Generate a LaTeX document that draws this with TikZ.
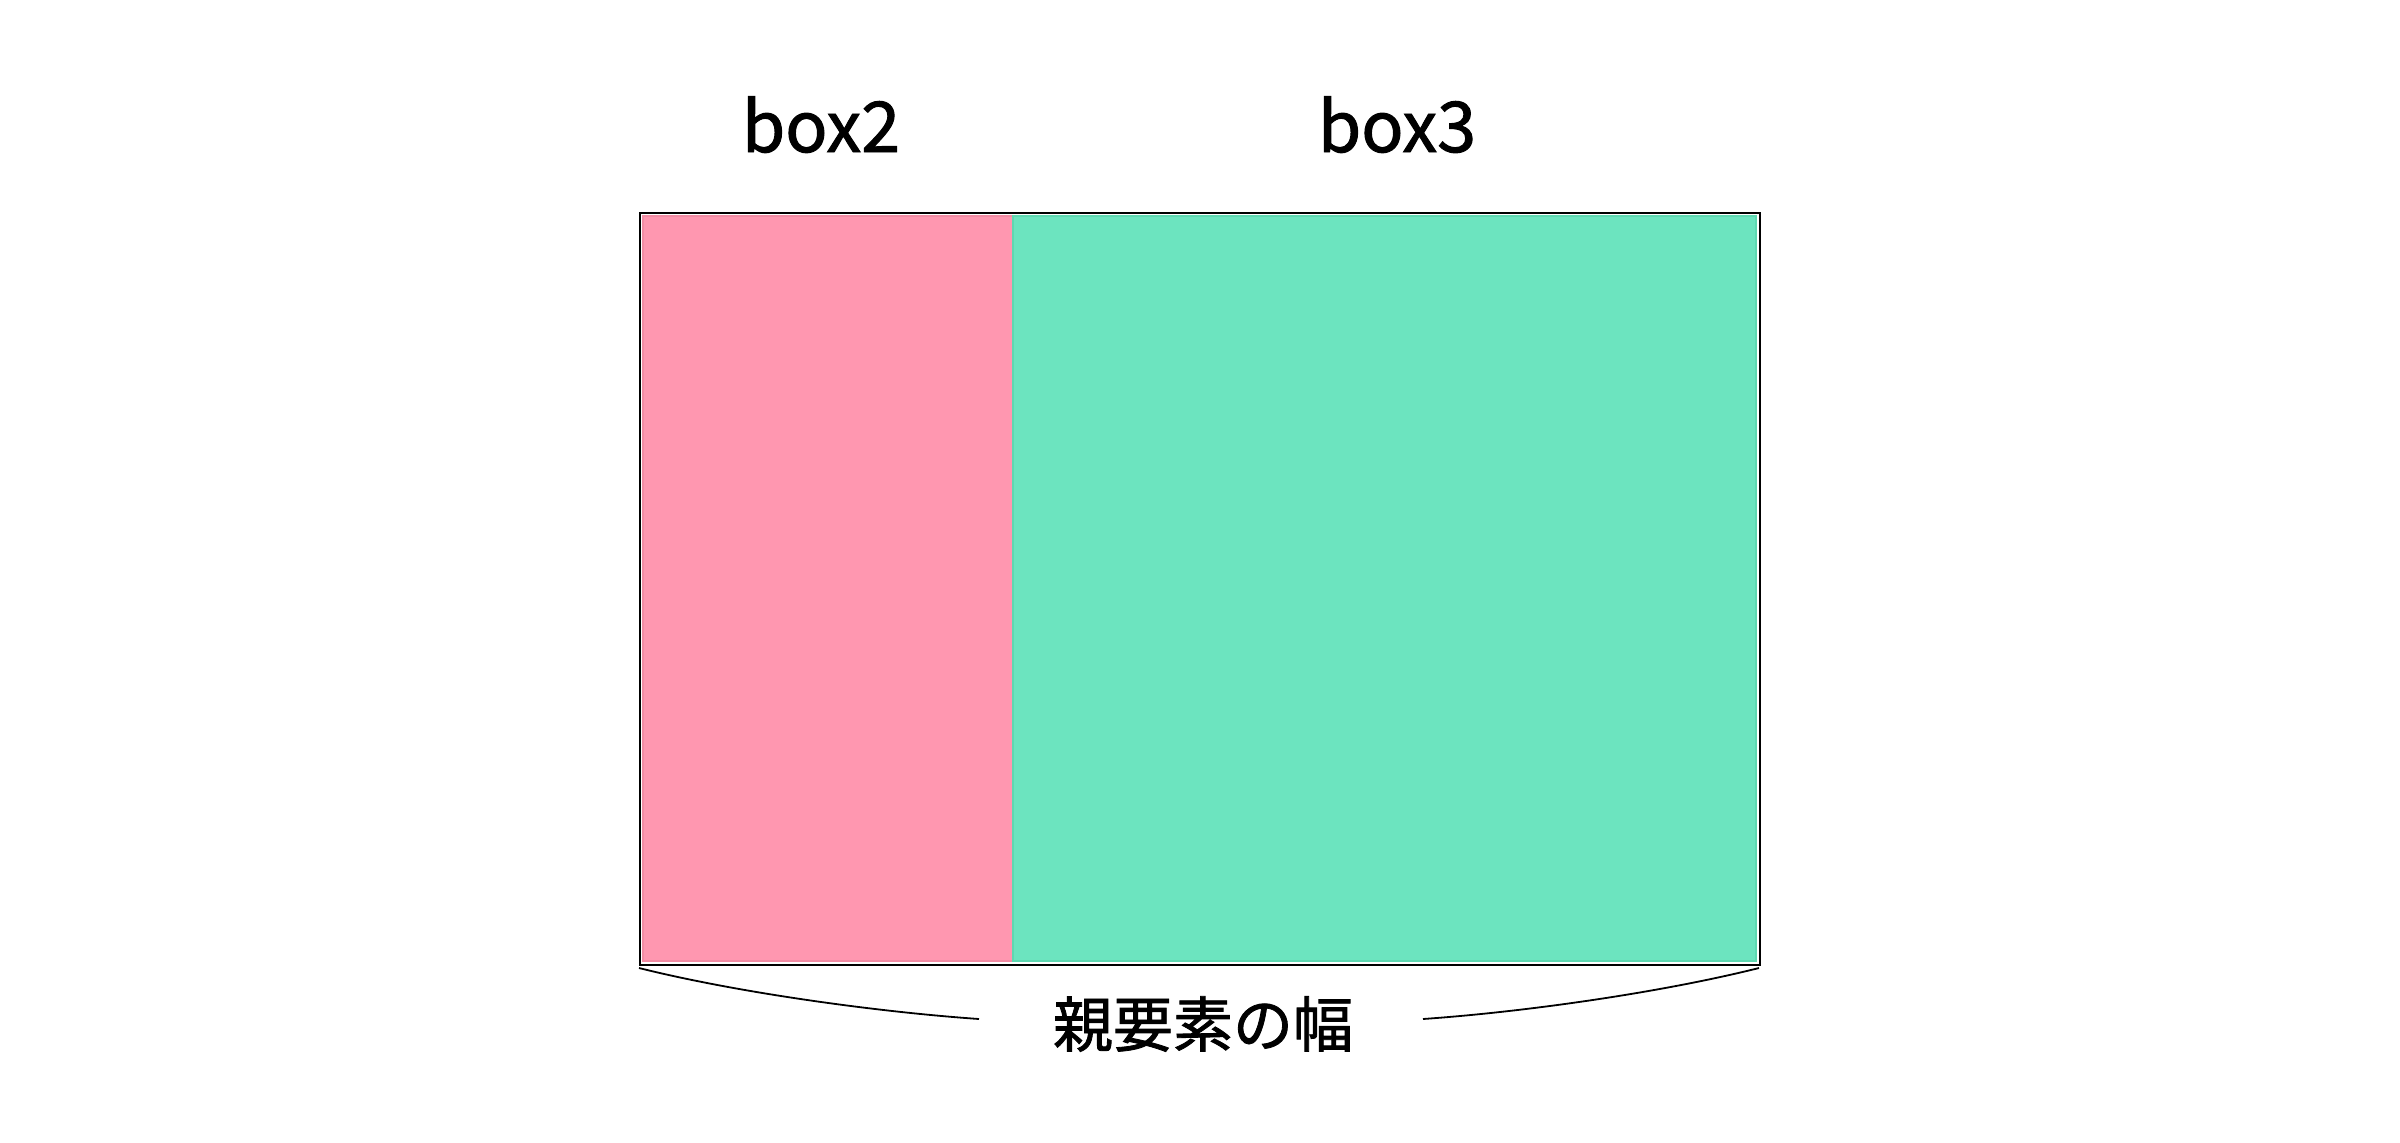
\documentclass[tikz,border=0pt]{standalone}
\usepackage{fontspec}
\newfontfamily\jp[FakeBold=1.4]{Noto Sans CJK JP}
\definecolor{boxpink}{HTML}{FF97B0}
\definecolor{boxpinkedge}{HTML}{F28CA4}
\definecolor{boxgreen}{HTML}{6CE4BF}
\definecolor{boxgreenedge}{HTML}{5ED8B1}
\tikzset{
  outerbox/.style={draw=black, line width=1pt},
  fillbox/.style={line width=0.6pt},
  lbl/.style={font=\jp\fontsize{35}{38}\selectfont, inner sep=0pt},
  jplbl/.style={font=\jp\fontsize{30}{33}\selectfont, inner sep=0pt},
  brace/.style={draw=black, line width=0.9pt}
}
\begin{document}
\begin{tikzpicture}[x=0.5pt,y=-0.5pt]
\useasboundingbox (0,0) rectangle (2400,1142);
% fills
\path[fillbox, fill=boxpink, draw=boxpinkedge] (643,216) rectangle (1013,961);
\path[fillbox, fill=boxgreen, draw=boxgreenedge] (1013,216) rectangle (1756,961);
% outer box
\node[outerbox, inner sep=0pt, minimum width=560pt, minimum height=376pt, anchor=north west] (parent) at (639,212) {};
% labels
\node[lbl, anchor=base] (box2) at (821,152) {box2};
\node[lbl, anchor=base] (box3) at (1397,152) {box3};
\node[jplbl] (width) at (1203,1024) {親要素の幅};
% brace curves
\coordinate (lstart) at (639,968);
\coordinate (lend) at (979,1019);
\coordinate (rstart) at (1759,968);
\coordinate (rend) at (1423,1019);
\draw[brace] (lstart) .. controls (739,993) and (879,1012) .. (lend);
\draw[brace] (rstart) .. controls (1659,993) and (1523,1012) .. (rend);
\end{tikzpicture}
\end{document}
